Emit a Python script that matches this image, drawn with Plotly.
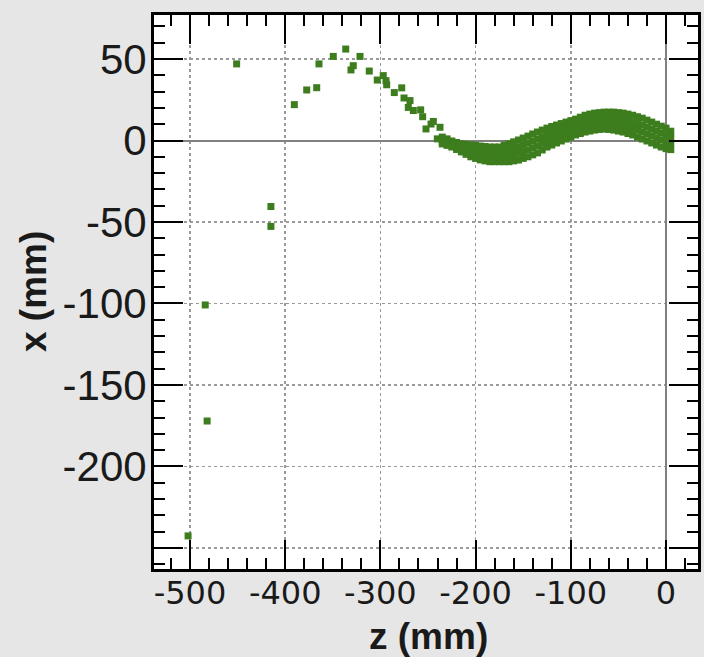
import plotly.graph_objects as go

# ---- data ----
z_sparse = [-502, -484, -482, -451, -415, -415, -390.4, -377.4, -366.9, -364.5,
            -349.5, -336.4, -330.9, -328.5, -321.4, -311.7, -303.3, -297.0, -294.1,
            -293.4, -285.4, -277.6, -275.2, -270.7, -268.9, -265.4, -257.7, -255.6,
            -252.1, -246.8, -244.4, -240.2, -237.4, -233.2]
x_sparse = [-242.6, -100.9, -172.1, 47.0, -40.5, -52.7, 22.0, 31.0, 32.4, 47.0,
            51.6, 56.1, 43.3, 45.9, 51.6, 42.6, 37.1, 39.8, 36.7, 34.2,
            29.4, 32.3, 26.1, 20.3, 24.5, 18.4, 18.8, 14.6,
            7.1, 10.1, 11.7, 1.0, 8.1, -1.0]

z_band = [-235, -230, -225, -220, -215, -210, -205, -200, -195, -190, -185, -180,
          -175, -170, -165, -160, -155, -150, -145, -140, -135, -130, -125, -120,
          -115, -110, -105, -100, -95, -90, -85, -80, -75, -70, -65, -60, -55, -50,
          -45, -40, -35, -30, -25, -20, -15, -10, -5, 0, 5]
x_band_top = [2.1, 1.0, -0.3, -1.2, -2.0, -2.4, -2.7, -3.0, -3.4, -3.7, -4.0, -4.0,
              -4.0, -3.0, -2.0, -0.8, 0.3, 1.5, 2.7, 4.0, 5.2, 6.4, 7.6, 8.6,
              9.5, 10.4, 11.3, 12.2, 13.1, 14.3, 15.5, 16.2, 16.8, 17.1, 17.4, 17.4, 17.4, 17.1,
              16.8, 16.2, 15.5, 14.6, 13.7, 12.5, 11.3, 10.0, 8.8, 7.6, 5.7]
x_band_mid1 = [0.7, -0.3, -1.5, -2.6, -3.7, -4.4, -5.1, -5.7, -6.2, -6.6, -7.0, -7.0,
               -7.0, -6.3, -5.7, -4.7, -3.8, -2.7, -1.5, -0.3, 0.9, 2.3, 3.7, 4.8,
               5.8, 6.8, 7.8, 8.8, 9.9, 11.0, 12.1, 12.7, 13.3, 13.7, 13.9, 13.9, 13.7, 13.3,
               12.9, 12.2, 11.5, 10.4, 9.4, 8.2, 7.0, 5.7, 4.5, 3.4, 1.9]
x_band_mid2 = [-0.7, -1.7, -2.8, -4.1, -5.3, -6.5, -7.6, -8.3, -9.1, -9.6, -10.0, -10.0,
               -10.0, -9.7, -9.3, -8.6, -7.9, -6.8, -5.8, -4.5, -3.3, -1.7, -0.1, 1.0,
               2.2, 3.3, 4.4, 5.5, 6.6, 7.6, 8.6, 9.3, 9.9, 10.2, 10.5, 10.3, 10.1, 9.6,
               9.1, 8.3, 7.4, 6.3, 5.2, 4.0, 2.8, 1.5, 0.3, -0.8, -1.8]
x_band_bottom = [-2.1, -3.0, -4.0, -5.5, -7.0, -8.5, -10.0, -11.0, -11.9, -12.5, -13.0, -13.0,
                 -13.0, -13.0, -13.0, -12.5, -12.0, -11.0, -10.0, -8.8, -7.6, -5.8, -4.0, -2.8,
                 -1.5, -0.3, 0.9, 2.1, 3.4, 4.3, 5.2, 5.8, 6.4, 6.8, 7.0, 6.8, 6.4, 5.8,
                 5.2, 4.3, 3.4, 2.1, 0.9, -0.3, -1.5, -2.8, -4.0, -5.0, -5.6]

x_tick_vals = [-500, -400, -300, -200, -100, 0]
x_tick_text = ["-500", "-400", "-300", "-200", "-100", "0"]
y_tick_vals = [-250, -200, -150, -100, -50, 0, 50]
y_tick_text = ["", "-200", "-150", "-100", "-50", "0", "50"]

GREEN = "#3d7d1e"

z_all = z_sparse + z_band * 4
x_all = x_sparse + x_band_top + x_band_mid1 + x_band_mid2 + x_band_bottom

fig = go.Figure()
fig.add_trace(go.Scatter(
    x=z_all, y=x_all, mode="markers",
    marker=dict(symbol="square", size=7, color=GREEN, line=dict(width=0)),
    hoverinfo="skip", showlegend=False,
))

common = dict(
    automargin=False,
    showline=True, linecolor="black", linewidth=3, mirror="ticks",
    ticks="inside", ticklen=29, tickwidth=2, tickcolor="black",
    showgrid=True, gridcolor="#9a9a9a", griddash="dot", gridwidth=1.5,
    zeroline=True, zerolinecolor="#808080", zerolinewidth=2,
)

fig.update_xaxes(
    range=[-537.8, 33.6], tickmode="array", tickvals=x_tick_vals, ticktext=x_tick_text,
    tickfont=dict(family="DejaVu Sans", size=32, color="#1a1a1a"),
    ticklabelstandoff=-6,
    minor=dict(ticks="inside", ticklen=11, tickwidth=2, tickcolor="black",
               tickmode="linear", tick0=0, dtick=20, showgrid=False),
    **common,
)
fig.update_yaxes(
    range=[-262.9, 77.0], tickmode="array", tickvals=y_tick_vals, ticktext=y_tick_text,
    tickfont=dict(family="Liberation Sans", size=42, color="#1a1a1a"),
    ticklabelstandoff=-4,
    minor=dict(ticks="inside", ticklen=11, tickwidth=2, tickcolor="black",
               tickmode="linear", tick0=0, dtick=10, showgrid=False),
    **common,
)

fig.update_layout(
    width=704, height=657,
    margin=dict(l=154, r=6, t=15, b=88, pad=0, autoexpand=False),
    paper_bgcolor="#e6e6e6", plot_bgcolor="white",
    annotations=[
        dict(text="<b>z (mm)</b>", xref="paper", yref="paper", x=0.5055, y=-0.1227,
             xanchor="center", yanchor="middle", showarrow=False,
             font=dict(family="Liberation Sans", size=37, color="#1a1a1a")),
        dict(text="<b>x (mm)</b>", xref="paper", yref="paper", x=-0.2224, y=0.5,
             xanchor="center", yanchor="middle", showarrow=False, textangle=-90,
             font=dict(family="Liberation Sans", size=37, color="#1a1a1a")),
    ],
)

fig.write_html(
    "out.html",
    config={"displayModeBar": False, "staticPlot": True},
    post_script="document.body.style.margin='0';document.body.style.overflow='hidden';"
                "document.body.style.background='#e6e6e6';",
)
